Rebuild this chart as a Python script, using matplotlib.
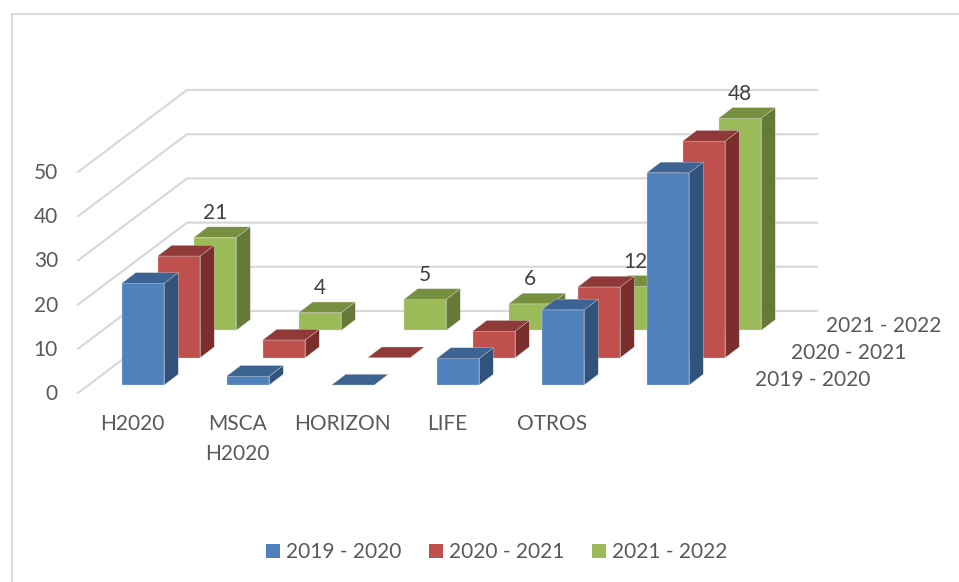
import matplotlib
matplotlib.use('Agg')
import matplotlib.pyplot as plt
from matplotlib.patches import Patch, Polygon

plt.rcParams['font.family'] = ['Lato', 'DejaVu Sans']

categories = ['H2020', 'MSCA\nH2020', 'HORIZON', 'LIFE', 'OTROS', '']
series_names = ['2019 - 2020', '2020 - 2021', '2021 - 2022']
values_2019 = [23, 2, 0, 6, 17, 48]
values_2020 = [23, 4, 0, 6, 16, 49]
values_2021 = [21, 4, 7, 6, 10, 48]
labels_2021 = ['21', '4', '5', '6', '12', '48']
y_ticks = [0, 10, 20, 30, 40, 50]

# front, top, side colours per series
colors = [('#4F81BD', '#3C6392', '#31527B'),
          ('#C0504D', '#8F3A38', '#7B2F2D'),
          ('#9BBB59', '#76903F', '#657A37')]

# axes are in pixels of the picture, y going down
X0, Y0 = 121.7, 385.0
COL_DX = 105.0
ROW_DX, ROW_DY = 36.0, 27.3
BAR_W = 42.5
DEPTH_X, DEPTH_Y = 14.0, 10.7
UNIT = 4.42
GRID_FRONT_X, GRID_BACK_X, GRID_RIGHT_X = 78, 187, 817
GRID_FRONT_Y0, GRID_BACK_Y0 = 393, 311
FS = 15


def bar_box(col, row, val):
    x = X0 + col * COL_DX + row * ROW_DX
    base = Y0 - row * ROW_DY
    return x, base, base - val * UNIT


fig = plt.figure(figsize=(9.59, 5.82), dpi=100)
ax = fig.add_axes([0, 0, 1, 1])
ax.set_xlim(0, 959)
ax.set_ylim(582, 0)
ax.axis('off')

# chart frame
ax.plot([12, 12, 959], [582, 14.2, 14.2], color='#D9D9D9', lw=1.3, zorder=1,
        solid_joinstyle='miter')

# grid walls
for t in y_ticks:
    h = t * UNIT
    ax.plot([GRID_FRONT_X, GRID_BACK_X, GRID_RIGHT_X],
            [GRID_FRONT_Y0 - h, GRID_BACK_Y0 - h, GRID_BACK_Y0 - h],
            color='#D9D9D9', lw=1.6, zorder=1, solid_joinstyle='miter')
    ax.text(58, GRID_FRONT_Y0 - h + 1, str(t), ha='right', va='center',
            fontsize=FS, color='#595959')

# back row first so the front rows cover it
z = 2
for row, vals in reversed(list(enumerate([values_2019, values_2020, values_2021]))):
    front, top, side = colors[row]
    for col, v in enumerate(vals):
        x, base, y = bar_box(col, row, v)
        edge = dict(edgecolor='#D8D8D8', lw=0.25, zorder=z)
        if v > 0:
            ax.add_patch(Polygon([(x + BAR_W, y), (x + BAR_W + DEPTH_X, y - DEPTH_Y),
                                  (x + BAR_W + DEPTH_X, base - DEPTH_Y), (x + BAR_W, base)],
                                 facecolor=side, **edge))
            ax.add_patch(Polygon([(x, y), (x + BAR_W, y), (x + BAR_W, base), (x, base)],
                                 facecolor=front, **edge))
        ax.add_patch(Polygon([(x, y), (x + DEPTH_X, y - DEPTH_Y),
                              (x + BAR_W + DEPTH_X, y - DEPTH_Y), (x + BAR_W, y)],
                             facecolor=top, **edge))
        z += 1

# data labels sit on the rear row
for col, (v, lab) in enumerate(zip(values_2021, labels_2021)):
    x, base, y = bar_box(col, 2, v)
    ax.text(x + BAR_W / 2, y - DEPTH_Y - 14, lab, ha='center', va='center',
            fontsize=FS, color='#404040', zorder=z if col != 4 else 2)

# category labels
for col, cat in enumerate(categories):
    ax.text(X0 + col * COL_DX + 10.5, 414.5, cat, ha='center', va='top',
            fontsize=FS, color='#595959', linespacing=1.6)

# series axis labels
for name, lx, ly in zip(series_names, [755, 791, 826], [380, 353, 326]):
    ax.text(lx, ly, name, ha='left', va='center', fontsize=FS, color='#595959')

handles = [Patch(facecolor=c[0], label=n) for c, n in zip(colors, series_names)]
ax.legend(handles=handles, loc='center', bbox_to_anchor=(496.5, 552),
          bbox_transform=ax.transData, ncol=3, frameon=False, fontsize=FS,
          labelcolor='#595959', handlelength=0.67, handleheight=0.67,
          handletextpad=0.27, columnspacing=1.35, borderpad=0, borderaxespad=0)

fig.savefig('out.png', dpi=100)
